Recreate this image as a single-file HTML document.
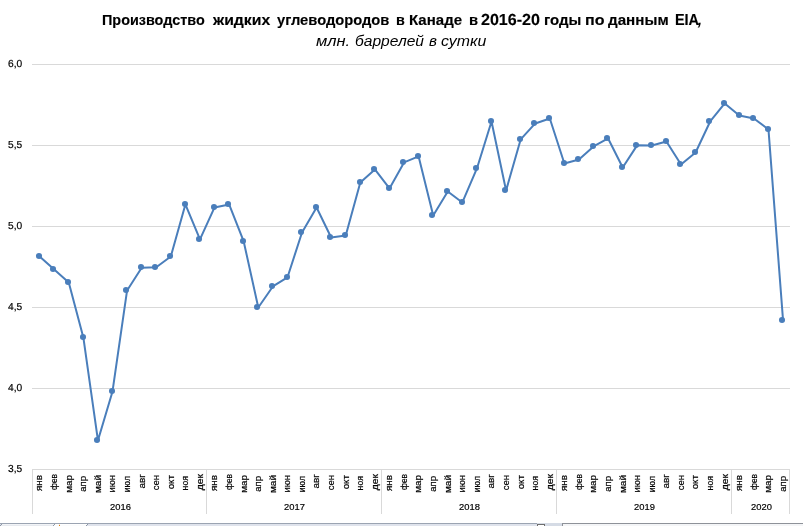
<!DOCTYPE html>
<html lang="ru">
<head>
<meta charset="utf-8">
<title>Производство жидких углеводородов в Канаде</title>
<style>
html,body{margin:0;padding:0;background:#fff;}
body{width:803px;height:526px;overflow:hidden;position:relative;font-family:"Liberation Sans",sans-serif;color:#000;}
#chart{position:absolute;left:0;top:0;width:803px;height:526px;}
.t1{position:absolute;top:10.27px;height:19px;line-height:19px;font-size:15.1px;transform-origin:0 0;font-weight:bold;white-space:nowrap;-webkit-text-stroke:0.15px #000;}
.t2{position:absolute;top:30.57px;height:19px;line-height:19px;font-size:15.1px;transform-origin:0 0;font-style:italic;white-space:nowrap;}
.yl{position:absolute;left:8px;height:12px;line-height:12px;font-size:10.2px;white-space:nowrap;transform-origin:0 0;-webkit-text-stroke:0.2px #000;}
.ml{position:absolute;width:24px;height:12px;line-height:12px;font-size:9.6px;white-space:nowrap;text-align:right;transform-origin:100% 0;-webkit-text-stroke:0.2px #000;}
.yr{position:absolute;top:501px;height:12px;line-height:12px;font-size:9.8px;white-space:nowrap;transform-origin:0 0;-webkit-text-stroke:0.2px #000;}
</style>
</head>
<body>
<svg id="chart" width="803" height="526" viewBox="0 0 803 526">
<rect x="32" y="64" width="758" height="1" fill="#d9d9d9"/>
<rect x="32" y="145" width="758" height="1" fill="#d9d9d9"/>
<rect x="32" y="226" width="758" height="1" fill="#d9d9d9"/>
<rect x="32" y="307" width="758" height="1" fill="#d9d9d9"/>
<rect x="32" y="388" width="758" height="1" fill="#d9d9d9"/>
<rect x="32" y="469" width="758" height="1" fill="#d9d9d9"/>
<rect x="32" y="469" width="1" height="45" fill="#d9d9d9"/>
<rect x="206" y="469" width="1" height="45" fill="#d9d9d9"/>
<rect x="381" y="469" width="1" height="45" fill="#d9d9d9"/>
<rect x="556" y="469" width="1" height="45" fill="#d9d9d9"/>
<rect x="731" y="469" width="1" height="45" fill="#d9d9d9"/>
<rect x="789" y="469" width="1" height="45" fill="#d9d9d9"/>
<polyline points="39.62,256.45 54.20,269.45 68.77,282.45 83.35,337.45 97.93,440.45 112.51,391.45 127.08,290.45 141.66,267.80 156.24,267.25 170.81,256.45 185.39,204.45 199.97,239.45 214.54,207.45 229.12,204.45 243.70,241.45 258.28,307.45 272.85,286.45 287.43,277.45 302.01,232.45 316.58,207.45 331.16,237.45 345.74,235.45 360.31,182.45 374.89,169.45 389.47,188.45 404.05,162.45 418.62,156.45 433.20,215.45 447.78,191.45 462.35,202.45 476.93,168.45 491.51,121.45 506.08,190.45 520.66,139.45 535.24,123.45 549.81,118.45 564.39,163.45 578.97,159.45 593.55,146.45 608.12,138.45 622.70,167.45 637.28,145.15 651.85,145.55 666.43,141.45 681.01,164.45 695.59,152.45 710.16,121.45 724.74,103.45 739.32,115.45 753.89,118.45 768.47,129.45 783.05,320.45" fill="none" stroke="#4a7ebb" stroke-width="2.0" stroke-linejoin="round" stroke-linecap="round"/>
<circle cx="39" cy="256" r="3.05" fill="#4a7ebb"/>
<circle cx="53" cy="269" r="3.05" fill="#4a7ebb"/>
<circle cx="68" cy="282" r="3.05" fill="#4a7ebb"/>
<circle cx="83" cy="337" r="3.05" fill="#4a7ebb"/>
<circle cx="97" cy="440" r="3.05" fill="#4a7ebb"/>
<circle cx="112" cy="391" r="3.05" fill="#4a7ebb"/>
<circle cx="126" cy="290" r="3.05" fill="#4a7ebb"/>
<circle cx="141" cy="267" r="3.05" fill="#4a7ebb"/>
<circle cx="155" cy="267" r="3.05" fill="#4a7ebb"/>
<circle cx="170" cy="256" r="3.05" fill="#4a7ebb"/>
<circle cx="185" cy="204" r="3.05" fill="#4a7ebb"/>
<circle cx="199" cy="239" r="3.05" fill="#4a7ebb"/>
<circle cx="214" cy="207" r="3.05" fill="#4a7ebb"/>
<circle cx="228" cy="204" r="3.05" fill="#4a7ebb"/>
<circle cx="243" cy="241" r="3.05" fill="#4a7ebb"/>
<circle cx="257" cy="307" r="3.05" fill="#4a7ebb"/>
<circle cx="272" cy="286" r="3.05" fill="#4a7ebb"/>
<circle cx="287" cy="277" r="3.05" fill="#4a7ebb"/>
<circle cx="301" cy="232" r="3.05" fill="#4a7ebb"/>
<circle cx="316" cy="207" r="3.05" fill="#4a7ebb"/>
<circle cx="330" cy="237" r="3.05" fill="#4a7ebb"/>
<circle cx="345" cy="235" r="3.05" fill="#4a7ebb"/>
<circle cx="360" cy="182" r="3.05" fill="#4a7ebb"/>
<circle cx="374" cy="169" r="3.05" fill="#4a7ebb"/>
<circle cx="389" cy="188" r="3.05" fill="#4a7ebb"/>
<circle cx="403" cy="162" r="3.05" fill="#4a7ebb"/>
<circle cx="418" cy="156" r="3.05" fill="#4a7ebb"/>
<circle cx="432" cy="215" r="3.05" fill="#4a7ebb"/>
<circle cx="447" cy="191" r="3.05" fill="#4a7ebb"/>
<circle cx="462" cy="202" r="3.05" fill="#4a7ebb"/>
<circle cx="476" cy="168" r="3.05" fill="#4a7ebb"/>
<circle cx="491" cy="121" r="3.05" fill="#4a7ebb"/>
<circle cx="505" cy="190" r="3.05" fill="#4a7ebb"/>
<circle cx="520" cy="139" r="3.05" fill="#4a7ebb"/>
<circle cx="534" cy="123" r="3.05" fill="#4a7ebb"/>
<circle cx="549" cy="118" r="3.05" fill="#4a7ebb"/>
<circle cx="564" cy="163" r="3.05" fill="#4a7ebb"/>
<circle cx="578" cy="159" r="3.05" fill="#4a7ebb"/>
<circle cx="593" cy="146" r="3.05" fill="#4a7ebb"/>
<circle cx="607" cy="138" r="3.05" fill="#4a7ebb"/>
<circle cx="622" cy="167" r="3.05" fill="#4a7ebb"/>
<circle cx="636" cy="145" r="3.05" fill="#4a7ebb"/>
<circle cx="651" cy="145" r="3.05" fill="#4a7ebb"/>
<circle cx="666" cy="141" r="3.05" fill="#4a7ebb"/>
<circle cx="680" cy="164" r="3.05" fill="#4a7ebb"/>
<circle cx="695" cy="152" r="3.05" fill="#4a7ebb"/>
<circle cx="709" cy="121" r="3.05" fill="#4a7ebb"/>
<circle cx="724" cy="103" r="3.05" fill="#4a7ebb"/>
<circle cx="739" cy="115" r="3.05" fill="#4a7ebb"/>
<circle cx="753" cy="118" r="3.05" fill="#4a7ebb"/>
<circle cx="768" cy="129" r="3.05" fill="#4a7ebb"/>
<circle cx="782" cy="320" r="3.05" fill="#4a7ebb"/>
<rect x="0" y="523" width="537" height="1" fill="#9ba4b2"/>
<rect x="0" y="524" width="537" height="2" fill="#dfe3ec"/>
<rect x="2" y="524" width="52" height="1" fill="#f2f4f7"/>
<rect x="1" y="525" width="52" height="1" fill="#e6e9ee"/>
<rect x="1" y="524" width="1" height="1" fill="#8d97a6"/>
<rect x="0" y="525" width="1" height="1" fill="#8d97a6"/>
<rect x="55" y="524" width="32" height="1" fill="#ffffff"/>
<rect x="54" y="525" width="32" height="1" fill="#fafbfc"/>
<rect x="54" y="524" width="1" height="1" fill="#8d97a6"/>
<rect x="53" y="525" width="1" height="1" fill="#8d97a6"/>
<rect x="87" y="524" width="1" height="1" fill="#8d97a6"/>
<rect x="86" y="525" width="1" height="1" fill="#8d97a6"/>
<rect x="59" y="525" width="1" height="1" fill="#e08214"/>
<rect x="59" y="524" width="1" height="1" fill="#f6e3c8"/>
<rect x="537" y="523" width="8" height="1" fill="#d5dbe5"/>
<rect x="537" y="524" width="8" height="2" fill="#6e6e6e"/>
<rect x="538" y="525" width="6" height="1" fill="#ffffff"/>
<rect x="545" y="523" width="17" height="3" fill="#d5dbe5"/>
<rect x="562" y="523" width="241" height="3" fill="#f4f5f7"/>
<rect x="562" y="523" width="241" height="1" fill="#8e9299"/>
<rect x="562" y="523" width="1" height="3" fill="#8e9299"/>
</svg>
<div class="t1" id="w0" style="left:102.41px;transform:scaleX(0.9542)">Производство</div>
<div class="t1" id="w1" style="left:213.03px;transform:scaleX(1.0444)">жидких</div>
<div class="t1" id="w2" style="left:277.33px;transform:scaleX(0.9748)">углеводородов</div>
<div class="t1" id="w3" style="left:395.68px;transform:scaleX(0.9506)">в</div>
<div class="t1" id="w4" style="left:409.39px;transform:scaleX(0.9950)">Канаде</div>
<div class="t1" id="w5" style="left:468.59px;transform:scaleX(0.9772)">в</div>
<div class="t1" id="w6" style="left:481.07px;font-size:16px;transform:rotate(0.05deg) scaleX(1.0035)">2016-20</div>
<div class="t1" id="w7" style="left:543.75px;transform:scaleX(0.9928)">годы</div>
<div class="t1" id="w8" style="left:585.37px;transform:scaleX(1.0633)">по</div>
<div class="t1" id="w9" style="left:607.67px;transform:scaleX(1.0058)">данным</div>
<div class="t1" id="w10" style="left:674.62px;font-size:16px;transform:rotate(0.05deg) scaleX(0.9021)">EIA</div>
<div class="t1" style="left:697.7px;font-style:italic;">,</div>
<div class="t2" id="wb0" style="left:315.52px;transform:scaleX(1.0885)">млн.</div>
<div class="t2" id="wb1" style="left:354.80px;transform:scaleX(1.0317)">баррелей</div>
<div class="t2" id="wb2" style="left:428.72px;transform:scaleX(1.0077)">в</div>
<div class="t2" id="wb3" style="left:441.23px;transform:scaleX(1.0507)">сутки</div>
<div class="yl" id="y0" style="left:8.20px;top:57.70px;transform:rotate(0.05deg) scaleX(1.0000)">6,0</div>
<div class="yl" id="y1" style="left:8.20px;top:138.70px;transform:rotate(0.05deg) scaleX(1.0000)">5,5</div>
<div class="yl" id="y2" style="left:8.20px;top:219.70px;transform:rotate(0.05deg) scaleX(1.0000)">5,0</div>
<div class="yl" id="y3" style="left:8.20px;top:300.70px;transform:rotate(0.05deg) scaleX(1.0000)">4,5</div>
<div class="yl" id="y4" style="left:8.20px;top:381.70px;transform:rotate(0.05deg) scaleX(1.0000)">4,0</div>
<div class="yl" id="y5" style="left:8.20px;top:462.70px;transform:rotate(0.05deg) scaleX(1.0000)">3,5</div>
<div class="ml" id="m0" style="left:9.47px;top:475.40px;transform:rotate(-90deg) scaleX(1.0253)">янв</div>
<div class="ml" id="m1" style="left:24.05px;top:474.25px;transform:rotate(-90deg) scaleX(0.8678)">фев</div>
<div class="ml" id="m2" style="left:38.62px;top:475.14px;transform:rotate(-90deg) scaleX(1.0336)">мар</div>
<div class="ml" id="m3" style="left:53.20px;top:475.52px;transform:rotate(-90deg) scaleX(0.9911)">апр</div>
<div class="ml" id="m4" style="left:67.78px;top:475.40px;transform:rotate(-90deg) scaleX(1.0435)">май</div>
<div class="ml" id="m5" style="left:82.36px;top:475.43px;transform:rotate(-90deg) scaleX(0.9786)">июн</div>
<div class="ml" id="m6" style="left:96.93px;top:476.03px;transform:rotate(-90deg) scaleX(0.9077)">июл</div>
<div class="ml" id="m7" style="left:111.51px;top:474.43px;transform:rotate(-90deg) scaleX(1.0376)">авг</div>
<div class="ml" id="m8" style="left:126.09px;top:475.23px;transform:rotate(-90deg) scaleX(0.9902)">сен</div>
<div class="ml" id="m9" style="left:140.66px;top:474.68px;transform:rotate(-90deg) scaleX(1.0208)">окт</div>
<div class="ml" id="m10" style="left:155.24px;top:476.15px;transform:rotate(-90deg) scaleX(0.9118)">ноя</div>
<div class="ml" id="m11" style="left:169.82px;top:474.36px;transform:rotate(-90deg) scaleX(1.0796)">дек</div>
<div class="ml" id="m12" style="left:184.39px;top:475.40px;transform:rotate(-90deg) scaleX(1.0253)">янв</div>
<div class="ml" id="m13" style="left:198.97px;top:474.25px;transform:rotate(-90deg) scaleX(0.8678)">фев</div>
<div class="ml" id="m14" style="left:213.55px;top:475.14px;transform:rotate(-90deg) scaleX(1.0336)">мар</div>
<div class="ml" id="m15" style="left:228.12px;top:475.52px;transform:rotate(-90deg) scaleX(0.9911)">апр</div>
<div class="ml" id="m16" style="left:242.70px;top:475.40px;transform:rotate(-90deg) scaleX(1.0435)">май</div>
<div class="ml" id="m17" style="left:257.28px;top:475.43px;transform:rotate(-90deg) scaleX(0.9786)">июн</div>
<div class="ml" id="m18" style="left:271.86px;top:476.03px;transform:rotate(-90deg) scaleX(0.9077)">июл</div>
<div class="ml" id="m19" style="left:286.43px;top:474.43px;transform:rotate(-90deg) scaleX(1.0376)">авг</div>
<div class="ml" id="m20" style="left:301.01px;top:475.23px;transform:rotate(-90deg) scaleX(0.9902)">сен</div>
<div class="ml" id="m21" style="left:315.59px;top:474.68px;transform:rotate(-90deg) scaleX(1.0208)">окт</div>
<div class="ml" id="m22" style="left:330.16px;top:476.15px;transform:rotate(-90deg) scaleX(0.9118)">ноя</div>
<div class="ml" id="m23" style="left:344.74px;top:474.36px;transform:rotate(-90deg) scaleX(1.0796)">дек</div>
<div class="ml" id="m24" style="left:359.32px;top:475.40px;transform:rotate(-90deg) scaleX(1.0253)">янв</div>
<div class="ml" id="m25" style="left:373.89px;top:474.25px;transform:rotate(-90deg) scaleX(0.8678)">фев</div>
<div class="ml" id="m26" style="left:388.47px;top:475.14px;transform:rotate(-90deg) scaleX(1.0336)">мар</div>
<div class="ml" id="m27" style="left:403.05px;top:475.52px;transform:rotate(-90deg) scaleX(0.9911)">апр</div>
<div class="ml" id="m28" style="left:417.63px;top:475.40px;transform:rotate(-90deg) scaleX(1.0435)">май</div>
<div class="ml" id="m29" style="left:432.20px;top:475.43px;transform:rotate(-90deg) scaleX(0.9786)">июн</div>
<div class="ml" id="m30" style="left:446.78px;top:476.03px;transform:rotate(-90deg) scaleX(0.9077)">июл</div>
<div class="ml" id="m31" style="left:461.36px;top:474.43px;transform:rotate(-90deg) scaleX(1.0376)">авг</div>
<div class="ml" id="m32" style="left:475.93px;top:475.23px;transform:rotate(-90deg) scaleX(0.9902)">сен</div>
<div class="ml" id="m33" style="left:490.51px;top:474.68px;transform:rotate(-90deg) scaleX(1.0208)">окт</div>
<div class="ml" id="m34" style="left:505.09px;top:476.15px;transform:rotate(-90deg) scaleX(0.9118)">ноя</div>
<div class="ml" id="m35" style="left:519.66px;top:474.36px;transform:rotate(-90deg) scaleX(1.0796)">дек</div>
<div class="ml" id="m36" style="left:534.24px;top:475.40px;transform:rotate(-90deg) scaleX(1.0253)">янв</div>
<div class="ml" id="m37" style="left:548.82px;top:474.25px;transform:rotate(-90deg) scaleX(0.8678)">фев</div>
<div class="ml" id="m38" style="left:563.40px;top:475.14px;transform:rotate(-90deg) scaleX(1.0336)">мар</div>
<div class="ml" id="m39" style="left:577.97px;top:475.52px;transform:rotate(-90deg) scaleX(0.9911)">апр</div>
<div class="ml" id="m40" style="left:592.55px;top:475.40px;transform:rotate(-90deg) scaleX(1.0435)">май</div>
<div class="ml" id="m41" style="left:607.13px;top:475.43px;transform:rotate(-90deg) scaleX(0.9786)">июн</div>
<div class="ml" id="m42" style="left:621.70px;top:476.03px;transform:rotate(-90deg) scaleX(0.9077)">июл</div>
<div class="ml" id="m43" style="left:636.28px;top:474.43px;transform:rotate(-90deg) scaleX(1.0376)">авг</div>
<div class="ml" id="m44" style="left:650.86px;top:475.23px;transform:rotate(-90deg) scaleX(0.9902)">сен</div>
<div class="ml" id="m45" style="left:665.44px;top:474.68px;transform:rotate(-90deg) scaleX(1.0208)">окт</div>
<div class="ml" id="m46" style="left:680.01px;top:476.15px;transform:rotate(-90deg) scaleX(0.9118)">ноя</div>
<div class="ml" id="m47" style="left:694.59px;top:474.36px;transform:rotate(-90deg) scaleX(1.0796)">дек</div>
<div class="ml" id="m48" style="left:709.17px;top:475.40px;transform:rotate(-90deg) scaleX(1.0253)">янв</div>
<div class="ml" id="m49" style="left:723.74px;top:474.25px;transform:rotate(-90deg) scaleX(0.8678)">фев</div>
<div class="ml" id="m50" style="left:738.32px;top:475.14px;transform:rotate(-90deg) scaleX(1.0336)">мар</div>
<div class="ml" id="m51" style="left:752.90px;top:475.52px;transform:rotate(-90deg) scaleX(0.9911)">апр</div>
<div class="yr" id="r0" style="left:110.00px;top:501.00px;transform:scaleX(0.9570)">2016</div>
<div class="yr" id="r1" style="left:284.00px;top:501.00px;transform:scaleX(0.9570)">2017</div>
<div class="yr" id="r2" style="left:459.00px;top:501.00px;transform:scaleX(0.9570)">2018</div>
<div class="yr" id="r3" style="left:634.00px;top:501.00px;transform:scaleX(0.9570)">2019</div>
<div class="yr" id="r4" style="left:751.00px;top:501.00px;transform:scaleX(0.9570)">2020</div>
</body>
</html>
